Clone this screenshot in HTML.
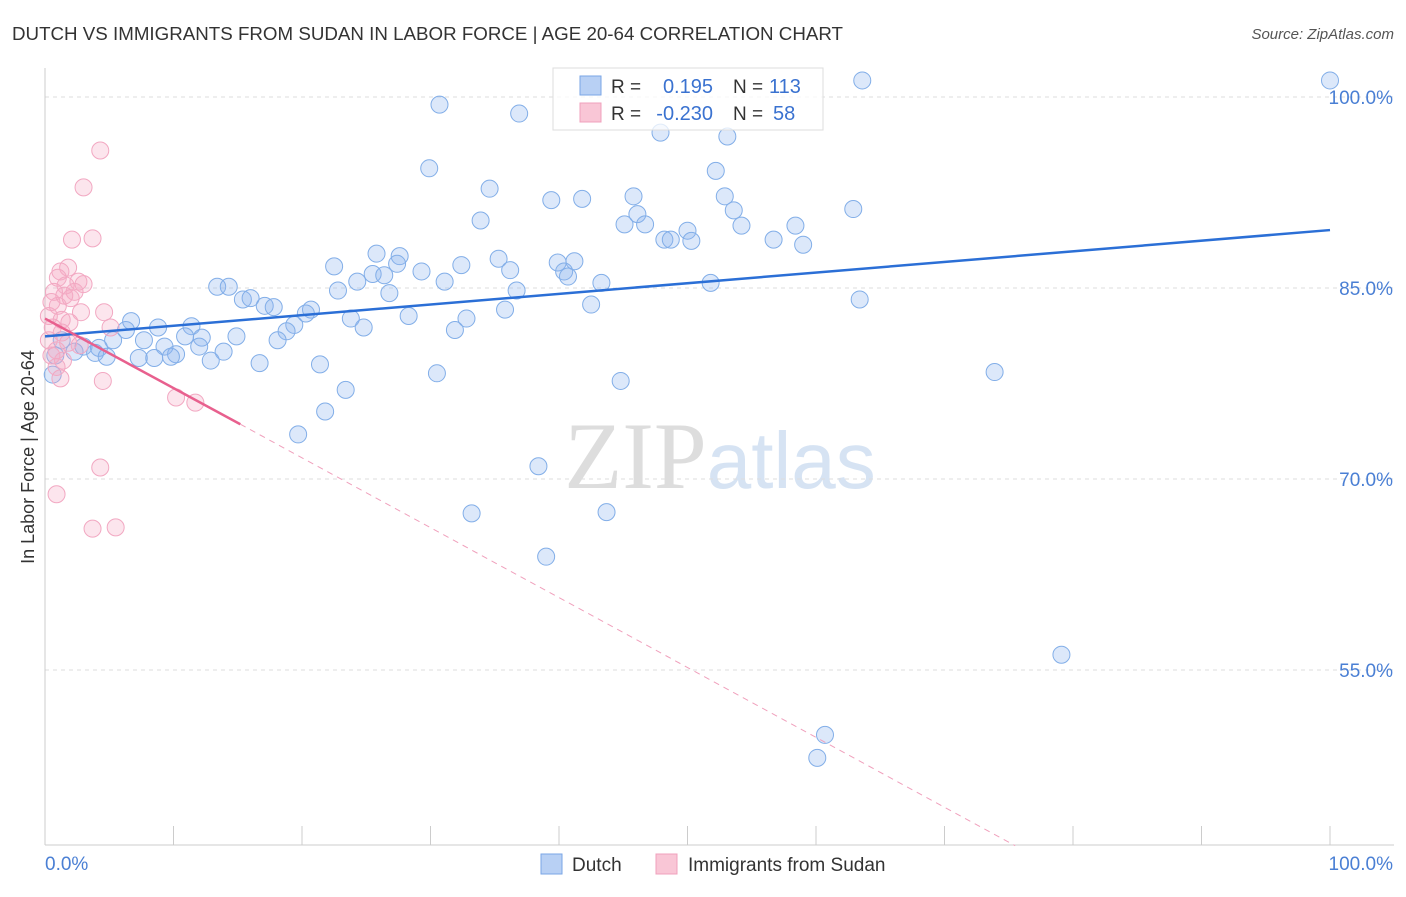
<!DOCTYPE html>
<html><head><meta charset="utf-8"><style>
body{margin:0;background:#fff;font-family:"Liberation Sans",sans-serif;}
svg text{font-family:"Liberation Sans",sans-serif;}
</style></head><body>
<svg id="chart" width="1406" height="892" xmlns="http://www.w3.org/2000/svg">
<text x="12" y="40" font-size="18" fill="#333" textLength="831" lengthAdjust="spacingAndGlyphs">DUTCH VS IMMIGRANTS FROM SUDAN IN LABOR FORCE | AGE 20-64 CORRELATION CHART</text>
<text x="1394" y="39" font-size="15" fill="#555" text-anchor="end" font-style="italic">Source: ZipAtlas.com</text>
<text x="720" y="488" font-size="95" text-anchor="middle"><tspan fill="#ddd" font-family="Liberation Serif">ZIP</tspan><tspan fill="#d6e3f3" font-size="80">atlas</tspan></text>
<g id="grid"></g>
<g id="axes"></g>
<g id="points"></g>
<g id="trends"></g>
<text transform="translate(34,457) rotate(-90)" font-size="18" fill="#333" text-anchor="middle">In Labor Force | Age 20-64</text>
<g>
<rect x="553" y="68" width="270" height="62" fill="rgba(255,255,255,0.75)" stroke="#ddd"/>
<rect x="580" y="76" width="21" height="19" fill="#b8d0f4" stroke="#7aa6e6"/>
<rect x="580" y="103" width="21" height="19" fill="#f9c6d6" stroke="#f0a0bc"/>
<text x="611" y="93" font-size="19" fill="#333">R =</text>
<text x="713" y="93" font-size="20" fill="#3a72d0" text-anchor="end">0.195</text>
<text x="733" y="93" font-size="19" fill="#333">N =</text>
<text x="769" y="93" font-size="20" fill="#3a72d0">113</text>
<text x="611" y="120" font-size="19" fill="#333">R =</text>
<text x="713" y="120" font-size="20" fill="#3a72d0" text-anchor="end">-0.230</text>
<text x="733" y="120" font-size="19" fill="#333">N =</text>
<text x="773" y="120" font-size="20" fill="#3a72d0">58</text>
</g>
<g>
<rect x="541" y="854" width="21" height="20" fill="#b8d0f4" stroke="#7aa6e6"/>
<text x="572" y="871" font-size="19" fill="#333">Dutch</text>
<rect x="656" y="854" width="21" height="20" fill="#f9c6d6" stroke="#f0a0bc"/>
<text x="688" y="871" font-size="19" fill="#333">Immigrants from Sudan</text>
</g>
</svg>
<script>
const yTicks=[55,70,85,100];
const yTickLabels=["55.0%","70.0%","85.0%","100.0%"];
const xTicks=[0,10,20,30,40,50,60,70,80,90,100];
const dutchX=[100,63.6,30.7,36.9,47.9,53.1,29.9,52.2,34.6,45.8,39.4,41.8,52.9,62.9,46.1,53.6,33.9,45.1,46.7,54.2,58.4,50.0,48.2,48.7,50.3,56.7,59.0,25.8,27.6,35.3,39.9,41.2,22.5,32.4,27.4,36.2,25.5,26.4,29.3,40.4,40.7,31.1,24.3,43.3,51.8,13.4,14.3,22.8,26.8,36.7,15.4,16.0,17.1,17.8,20.7,20.3,35.8,42.5,63.4,28.3,23.8,32.8,6.7,24.8,8.8,11.4,19.4,31.9,6.3,18.8,14.9,10.9,18.1,7.7,5.3,12.2,9.3,12.0,3.0,1.3,4.2,2.3,3.9,4.8,7.3,10.2,13.9,8.5,9.8,12.9,16.7,21.4,0.8,0.6,30.5,44.8,73.9,23.4,21.8,19.7,38.4,33.2,43.7,39.0,79.1,60.7,60.1];
const dutchY=[101.3,101.3,99.4,98.7,97.2,96.9,94.4,94.2,92.8,92.2,91.9,92.0,92.2,91.2,90.8,91.1,90.3,90.0,90.0,89.9,89.9,89.5,88.8,88.8,88.7,88.8,88.4,87.7,87.5,87.3,87.0,87.1,86.7,86.8,86.9,86.4,86.1,86.0,86.3,86.3,85.9,85.5,85.5,85.4,85.4,85.1,85.1,84.8,84.6,84.8,84.1,84.2,83.6,83.5,83.3,83.0,83.3,83.7,84.1,82.8,82.6,82.6,82.4,81.9,81.9,82.0,82.1,81.7,81.7,81.6,81.2,81.2,80.9,80.9,80.9,81.1,80.4,80.4,80.4,80.9,80.3,80.0,79.9,79.6,79.5,79.8,80.0,79.5,79.6,79.3,79.1,79.0,79.7,78.2,78.3,77.7,78.4,77.0,75.3,73.5,71.0,67.3,67.4,63.9,56.2,49.9,48.1];
const sudanX=[4.3,3.0,2.1,3.7,1.8,1.2,1.0,2.6,1.6,3.0,0.7,2.3,1.5,2.0,0.5,1.0,2.8,4.6,0.3,1.3,1.9,0.6,5.1,1.3,0.3,1.8,0.9,2.7,0.5,1.4,0.9,1.2,4.5,10.2,11.7,4.3,0.9,3.7,5.5];
const sudanY=[95.8,92.9,88.8,88.9,86.6,86.3,85.8,85.5,85.2,85.3,84.7,84.7,84.4,84.2,83.9,83.6,83.1,83.1,82.8,82.5,82.3,81.9,81.9,81.5,80.9,80.7,80.1,80.5,79.7,79.3,78.8,77.9,77.7,76.4,76.0,70.9,68.8,66.1,66.2];
const dutchTrend=[[0,81.2],[100,89.55]];
const sudanTrendSolid=[[0,82.6],[15.2,74.3]];
const sudanTrendDash=[[15.2,74.3],[75.5,41.2]];

const X=v=>45+v*12.85;
const Y=v=>97+(100-v)*12.733;
const NS="http://www.w3.org/2000/svg";
function mk(tag,attrs,parent){const e=document.createElementNS(NS,tag);for(const k in attrs)e.setAttribute(k,attrs[k]);parent.appendChild(e);return e;}
const grid=document.getElementById('grid'),axes=document.getElementById('axes'),pts=document.getElementById('points'),tr=document.getElementById('trends');
yTicks.forEach((t,i)=>{
 const l=mk('line',{x1:45,x2:1394,y1:Y(t),y2:Y(t),stroke:'#ddd','stroke-dasharray':'4,4'},grid);
 
 
 const tx=mk('text',{x:1393,y:Y(t)+7,'font-size':19,fill:'#4a7fd4','text-anchor':'end'},axes);
 tx.textContent=yTickLabels[i];
 
 
});
let a=mk('line',{x1:45,x2:45,y1:68,y2:845,stroke:'#ccc'},axes);


a=mk('line',{x1:45,x2:1394,y1:845,y2:845,stroke:'#ccc'},axes);


xTicks.forEach(t=>{
 const l=mk('line',{x1:X(t),x2:X(t),y1:826,y2:845,stroke:'#ccc'},axes);
 
 
});
let xl=mk('text',{x:45,y:870,'font-size':19,fill:'#4a7fd4'},axes);xl.textContent='0.0%';


xl=mk('text',{x:1393,y:870,'font-size':19,fill:'#4a7fd4','text-anchor':'end'},axes);xl.textContent='100.0%';


dutchX.forEach((v,i)=>{
 const c=mk('circle',{cx:X(v),cy:Y(dutchY[i]),r:8.5,fill:'rgba(140,180,240,0.3)',stroke:'#82aee8','stroke-width':1},pts);
 
 
});
sudanX.forEach((v,i)=>{
 const c=mk('circle',{cx:X(v),cy:Y(sudanY[i]),r:8.5,fill:'rgba(245,170,195,0.3)',stroke:'#f2a8c2','stroke-width':1},pts);
 
 
});
let t=mk('line',{x1:X(dutchTrend[0][0]),y1:Y(dutchTrend[0][1]),x2:X(dutchTrend[1][0]),y2:Y(dutchTrend[1][1]),stroke:'#2b6fd6','stroke-width':2.5},tr);


t=mk('line',{x1:X(sudanTrendSolid[0][0]),y1:Y(sudanTrendSolid[0][1]),x2:X(sudanTrendSolid[1][0]),y2:Y(sudanTrendSolid[1][1]),stroke:'#e8608e','stroke-width':2.5},tr);


t=mk('line',{x1:X(sudanTrendDash[0][0]),y1:Y(sudanTrendDash[0][1]),x2:X(sudanTrendDash[1][0]),y2:Y(sudanTrendDash[1][1]),stroke:'#f0a0bc','stroke-width':1,'stroke-dasharray':'6,5'},tr);


</script>
</body></html>
